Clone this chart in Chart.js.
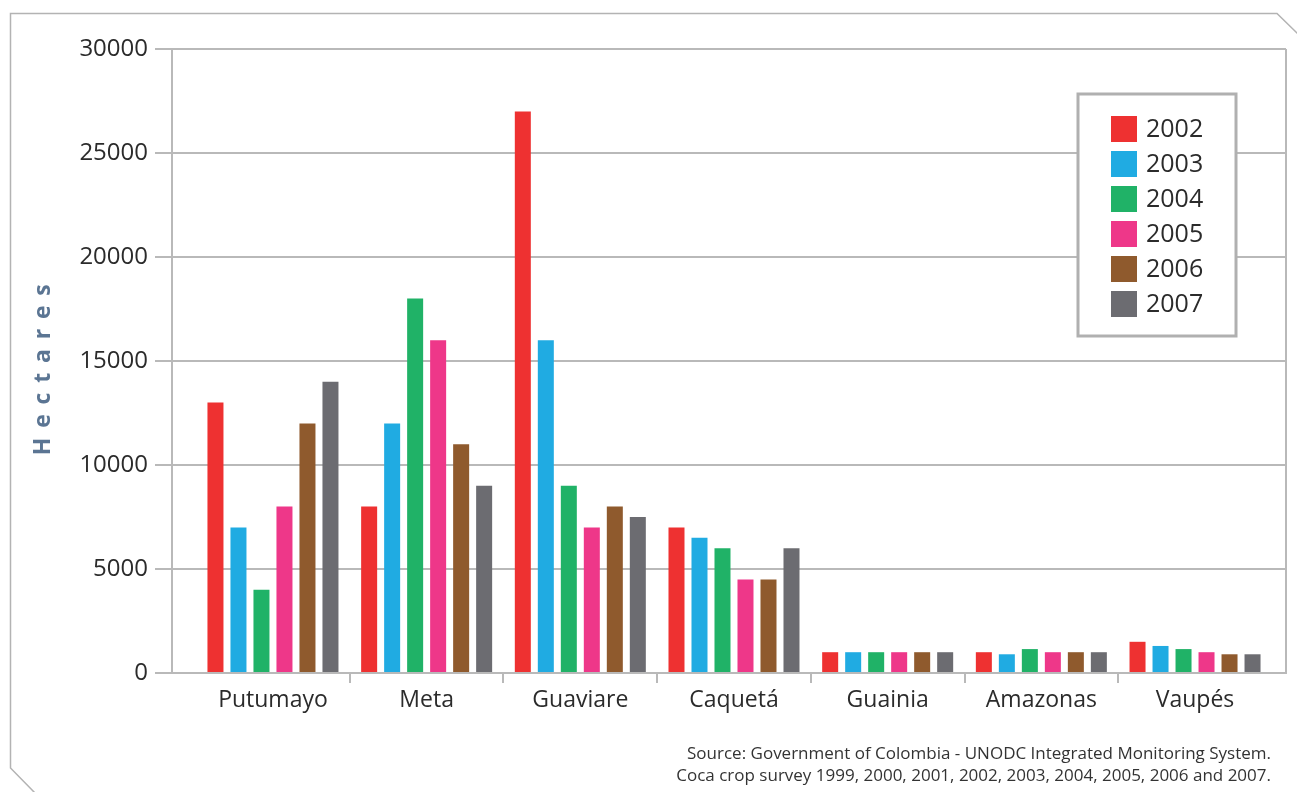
<!DOCTYPE html>
<html>
<head>
<meta charset="utf-8">
<script src="https://cdn.jsdelivr.net/npm/chart.js@4.4.1/dist/chart.umd.min.js"></script>
<style>
  body { margin: 0; background: #fff; }
  canvas { display: block; }
</style>
</head>
<body>
<canvas id="cocaChart" width="1297" height="792"></canvas>
<script>
// coca cultivation by department, hectares
var departments = ['Putumayo', 'Meta', 'Guaviare', 'Caquetá', 'Guainia', 'Amazonas', 'Vaupés'];
var years = ['2002', '2003', '2004', '2005', '2006', '2007'];
var ha2002 = [13000, 8000, 27000, 7000, 1000, 1000, 1500];
var ha2003 = [7000, 12000, 16000, 6500, 1000, 900, 1300];
var ha2004 = [4000, 18000, 9000, 6000, 1000, 1150, 1150];
var ha2005 = [8000, 16000, 7000, 4500, 1000, 1000, 1000];
var ha2006 = [12000, 11000, 8000, 4500, 1000, 1000, 900];
var ha2007 = [14000, 9000, 7500, 6000, 1000, 1000, 900];
var yearColors = ['#ee3131', '#20abe2', '#20b267', '#ee3789', '#8f5a2d', '#6c6c71'];
var yTicks = [0, 5000, 10000, 15000, 20000, 25000, 30000];
var sourceLines = [
  'Source: Government of Colombia - UNODC Integrated Monitoring System.',
  'Coca crop survey 1999, 2000, 2001, 2002, 2003, 2004, 2005, 2006 and 2007.'
];

var series = [ha2002, ha2003, ha2004, ha2005, ha2006, ha2007];
var FONT = "'Open Sans', 'DejaVu Sans', sans-serif";
var gridGrey = '#b9b9b9';

var datasets = series.map(function (vals, s) {
  return {
    label: years[s],
    backgroundColor: yearColors[s],
    borderWidth: 0,
    data: vals.map(function (v, i) { return { x: i, y: v }; })
  };
});

// outer frame with clipped corners, right edge of the plot box
var framePlugin = {
  id: 'frame',
  beforeDraw: function (chart) {
    var c = chart.ctx;
    var a = chart.chartArea;
    c.save();
    c.strokeStyle = '#b3b3b3';
    c.lineWidth = 1.5;
    c.beginPath();
    c.moveTo(1299, 35);
    c.lineTo(1277, 13.5);
    c.lineTo(10.5, 13.5);
    c.lineTo(10.5, 768);
    c.lineTo(35, 793);
    c.stroke();

    c.strokeStyle = gridGrey;
    c.lineWidth = 2;
    c.beginPath();
    c.moveTo(a.right, a.top);
    c.lineTo(a.right, a.bottom);
    c.stroke();
    c.restore();
  },
  afterDraw: function (chart) {
    var c = chart.ctx;
    var a = chart.chartArea;
    c.save();

    // legend box
    var bx = a.right - 208, by = a.top + 45, bw = 158, bh = 242;
    c.fillStyle = '#fff';
    c.fillRect(bx, by, bw, bh);
    c.strokeStyle = '#b0b0b0';
    c.lineWidth = 3;
    c.strokeRect(bx, by, bw, bh);
    c.font = '25px ' + FONT;
    c.textBaseline = 'middle';
    c.textAlign = 'left';
    chart.data.datasets.forEach(function (ds, i) {
      var ry = by + 22 + i * 35;
      c.fillStyle = ds.backgroundColor;
      c.fillRect(bx + 33, ry, 26, 26);
      c.fillStyle = '#2b2b2b';
      c.fillText(ds.label, bx + 68, ry + 14);
    });

    // source note
    c.font = '17px ' + FONT;
    c.fillStyle = '#333';
    c.textAlign = 'right';
    c.textBaseline = 'middle';
    sourceLines.forEach(function (line, i) {
      c.fillText(line, 1271, 754 + i * 22);
    });
    c.restore();
  }
};

var ctx = document.getElementById('cocaChart').getContext('2d');
var cocaChart = new Chart(ctx, {
  type: 'bar',
  data: { datasets: datasets },
  plugins: [framePlugin],
  options: {
    responsive: false,
    animation: false,
    events: [],
    layout: { padding: { left: 0, top: 49, right: 11, bottom: 0 } },
    datasets: {
      bar: { categoryPercentage: 0.898, barPercentage: 0.696 }
    },
    plugins: {
      legend: { display: false },
      tooltip: { enabled: false }
    },
    scales: {
      x: {
        type: 'linear',
        offset: false,
        min: -0.657,
        max: 6.592,
        afterBuildTicks: function (axis) {
          axis.ticks = departments.map(function (d, i) { return { value: i }; });
        },
        afterFit: function (axis) { axis.height = 119; },
        ticks: {
          autoSkip: false,
          maxRotation: 0,
          minRotation: 0,
          padding: 4,
          color: '#2b2b2b',
          font: { family: FONT, size: 23 },
          callback: function (v) { return departments[v]; }
        },
        grid: {
          offset: true,
          drawOnChartArea: false,
          drawTicks: true,
          tickLength: 10,
          lineWidth: 2,
          color: function (c) {
            return (c.index > 0 && c.index < departments.length) ? gridGrey : 'rgba(0,0,0,0)';
          }
        },
        border: { display: true, color: gridGrey, width: 2 }
      },
      y: {
        min: 0,
        max: 30000,
        afterBuildTicks: function (axis) {
          axis.ticks = yTicks.map(function (v) { return { value: v }; });
        },
        afterFit: function (axis) { axis.width = 172; },
        ticks: {
          padding: 7,
          color: '#2b2b2b',
          font: { family: FONT, size: 24 },
          callback: function (v) { return String(v); }
        },
        grid: { color: gridGrey, lineWidth: 2, drawTicks: true, tickLength: 17 },
        border: { display: true, color: gridGrey, width: 2 },
        title: {
          display: true,
          text: 'H \u2009e \u2009c \u2009t \u2009a \u2009r \u2009e \u2009s\u2002 ',
          color: '#5b7593',
          font: { family: FONT, size: 23, weight: 'bold' },
          padding: { top: 30, bottom: 0 }
        }
      }
    }
  }
});
</script>
</body>
</html>
